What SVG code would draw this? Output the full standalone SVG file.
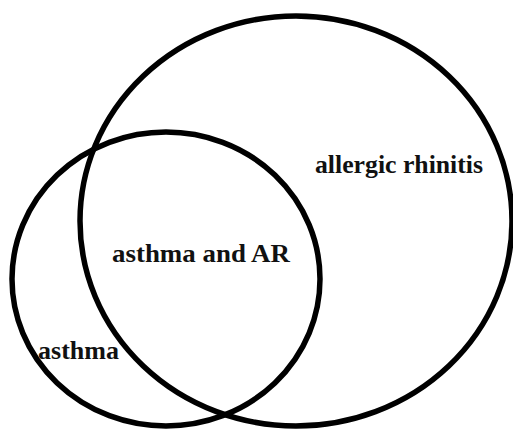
<svg xmlns="http://www.w3.org/2000/svg" width="513" height="429" viewBox="0 0 513 429">
<style>
.set{fill:none;stroke:#000;stroke-width:5.5}
</style>
<rect width="513" height="429" fill="#fff"/>
<g id="allergic-rhinitis">
<ellipse class="set" cx="296" cy="221" rx="216" ry="205"/>
<text font-family="Liberation Serif, Times New Roman, serif" font-weight="bold" font-size="26" fill="#111" x="315" y="173" textLength="168" lengthAdjust="spacingAndGlyphs">allergic rhinitis</text>
</g>
<g id="asthma">
<ellipse class="set" cx="166" cy="279" rx="154" ry="147"/>
<text font-family="Liberation Serif, Times New Roman, serif" font-weight="bold" font-size="26" fill="#111" x="38" y="359" textLength="81" lengthAdjust="spacingAndGlyphs">asthma</text>
</g>
<g id="overlap">
<text font-family="Liberation Serif, Times New Roman, serif" font-weight="bold" font-size="26" fill="#111" x="112" y="262" textLength="178" lengthAdjust="spacingAndGlyphs">asthma and AR</text>
</g>
<g id="connectors"></g>
</svg>
